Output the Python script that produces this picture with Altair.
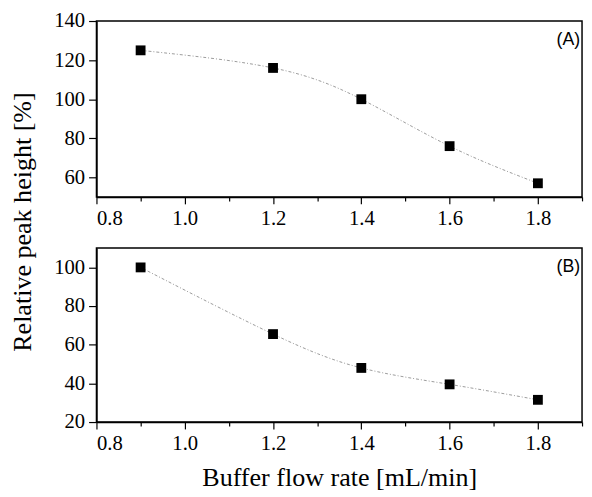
import altair as alt
import pandas as pd

# ---- data ----
flow = [0.9, 1.2, 1.4, 1.6, 1.8]
height_a = [125, 116, 100, 76, 57]
height_b = [100, 65.5, 48, 39.5, 31.5]
panel_labels = ["(A)", "(B)"]
x_ticks = [0.8, 0.9, 1.0, 1.1, 1.2, 1.3, 1.4, 1.5, 1.6, 1.7, 1.8, 1.9]
y_ticks_a = [60, 80, 100, 120, 140]
y_ticks_b = [20, 40, 60, 80, 100]
y_domain_a = [50, 140]
y_domain_b = [20, 110]
x_title = "Buffer flow rate [mL/min]"
y_title = "Relative peak height [%]"

SERIF = "Liberation Serif"
SANS = "Liberation Sans"
W = 494
H_A = 179
H_B = 177
GAP = 52

common_axis = dict(
    labelFont=SERIF, labelFontSize=21, labelColor="black",
    titleFont=SERIF, titleFontSize=26.5, titleFontWeight="normal", titleColor="black",
    domainColor="black", domainWidth=1.5, tickColor="black", tickWidth=1.2, grid=False,
)


def panel(values, label, ydomain, yticks, h, show_ytitle, show_xtitle):
    df = pd.DataFrame({"flow": flow, "h": values})
    x_axis = alt.Axis(
        values=x_ticks,
        labelExpr="round(datum.value*10) % 2 == 0 ? format(datum.value, '.1f') : ''",
        tickSize={"condition": {"test": "round(datum.value*10) % 2 == 1", "value": 4}, "value": 7},
        labelPadding=4,
        title=x_title if show_xtitle else None,
        titlePadding=12,
        **common_axis,
    )
    y_kwargs = dict(values=yticks, tickSize=8, labelPadding=4, **common_axis)
    if show_ytitle:
        y_kwargs.update(title=y_title, titleY=(H_A + GAP + H_B) / 2, titlePadding=18)
    else:
        y_kwargs.update(title=None)
    x = alt.X("flow:Q", scale=alt.Scale(domain=[0.8, 1.9], nice=False, zero=False), axis=x_axis)
    y = alt.Y("h:Q", scale=alt.Scale(domain=ydomain, nice=False, zero=False), axis=alt.Axis(**y_kwargs))
    base = alt.Chart(df)
    line = base.mark_line(interpolate="natural", color="#9a9a9a", strokeWidth=1,
                          strokeDash=[3, 2, 1, 2]).encode(x=x, y=y)
    pts = base.mark_square(size=100, color="black", opacity=1).encode(x=x, y=y)
    lab = alt.Chart(pd.DataFrame({"label": [label]})).mark_text(
        font=SANS, fontSize=18, align="right", baseline="top", color="black"
    ).encode(text="label:N", x=alt.value(W - 2), y=alt.value(10))
    return alt.layer(line, pts, lab).properties(width=W, height=h)


top = panel(height_a, panel_labels[0], y_domain_a, y_ticks_a, H_A, True, False)
bottom = panel(height_b, panel_labels[1], y_domain_b, y_ticks_b, H_B, False, True)

chart = alt.vconcat(top, bottom, spacing=GAP, bounds="flush").properties(
    padding={"left": 0, "top": -3, "right": 0, "bottom": 0}
).configure(
    font=SERIF,
    style={"guide-label": {"font": SERIF, "fontSize": 21},
           "guide-title": {"font": SERIF}},
).configure_view(
    stroke="black", strokeWidth=1.5
).configure_axis(
    labelFont=SERIF, labelFontSize=21, titleFont=SERIF
).configure_concat(spacing=GAP)

chart.save("out.html", embed_options={"renderer": "svg", "actions": False})
